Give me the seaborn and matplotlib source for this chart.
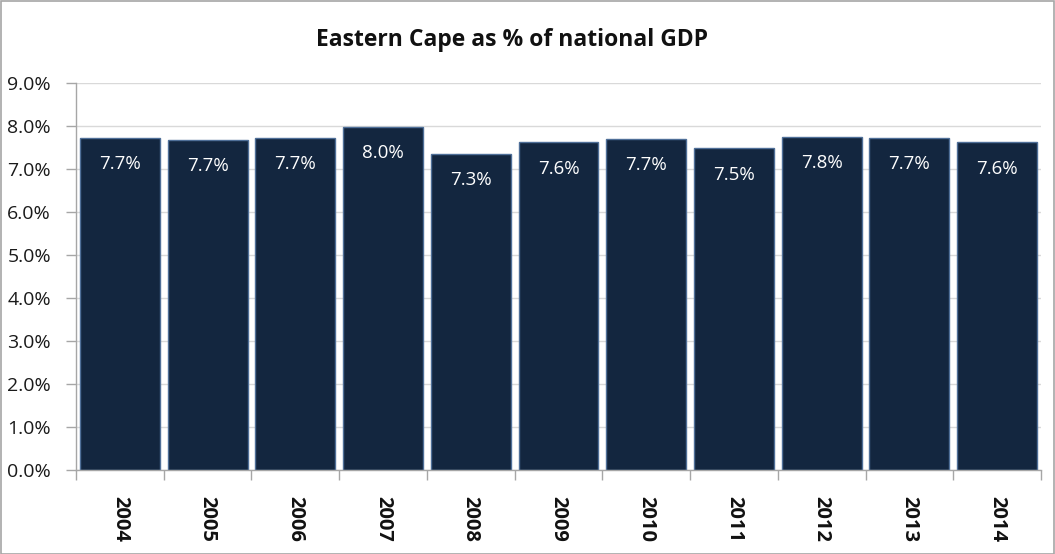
import matplotlib
matplotlib.use("Agg")
import matplotlib.pyplot as plt
import seaborn as sns
import pandas as pd
from matplotlib.ticker import FuncFormatter, FixedLocator, NullFormatter

# Eastern Cape share of national GDP, by year (%)
years = ["2004", "2005", "2006", "2007", "2008", "2009", "2010", "2011", "2012", "2013", "2014"]
share_pct = [7.72, 7.67, 7.73, 7.97, 7.35, 7.62, 7.70, 7.48, 7.75, 7.73, 7.62]
y_ticks = [0, 1, 2, 3, 4, 5, 6, 7, 8, 9]

df = pd.DataFrame({"year": years, "share": share_pct})

sns.set_theme(style="white")
plt.rcParams["font.family"] = ["Open Sans", "DejaVu Sans"]

fig = plt.figure(figsize=(10.55, 5.54), dpi=100)
ax = fig.add_axes([76 / 1055, 1 - 470 / 554, (1041 - 76) / 1055, (470 - 83) / 554])

bar_color = "#13263f"
sns.barplot(data=df, x="year", y="share", color=bar_color, saturation=1,
            width=0.91, edgecolor="#4f6f98", linewidth=1.0, ax=ax, zorder=2)

ax.set_ylim(0, 9)
ax.set_xlim(-0.5, len(years) - 0.5)
ax.set_yticks(y_ticks)
ax.yaxis.set_major_formatter(FuncFormatter(lambda v, _: f"{v:.1f}%"))
ax.yaxis.grid(True, color="#d9d9d9", linewidth=1.0, zorder=0)
ax.set_axisbelow(True)
ax.set_xlabel("")
ax.set_ylabel("")

for side in ("top", "right"):
    ax.spines[side].set_visible(False)
for side in ("left", "bottom"):
    ax.spines[side].set_color("#a6a6a6")
    ax.spines[side].set_linewidth(1.0)

ax.tick_params(axis="y", which="major", left=True, length=7, width=1, color="#a6a6a6",
               labelsize=14, labelcolor="#1a1a1a", pad=11)
# category ticks sit on the boundaries between bars
ax.xaxis.set_major_locator(FixedLocator(range(len(years))))
ax.xaxis.set_minor_locator(FixedLocator([i - 0.5 for i in range(len(years) + 1)]))
ax.xaxis.set_minor_formatter(NullFormatter())
ax.tick_params(axis="x", which="major", bottom=False, labelsize=14.5, pad=13)
ax.tick_params(axis="x", which="minor", bottom=True, length=7, width=1, color="#a6a6a6")
for lbl in ax.get_xticklabels():
    lbl.set_rotation(270)
    lbl.set_fontweight("bold")
    lbl.set_color("#111111")
    lbl.set_va("top")
    lbl.set_ha("center")

for i, v in enumerate(share_pct):
    ax.text(i, v - 0.40, f"{v:.1f}%", ha="center", va="top", color="white",
            fontsize=13.5, zorder=3)

fig.suptitle("Eastern Cape as % of national GDP", x=512 / 1055, y=1 - 40 / 554,
             va="center", fontsize=16.5, fontweight="bold", color="#111111")

# thin frame around the whole chart area
border = plt.Rectangle((0.5 / 1055, 0.5 / 554), 1 - 1.5 / 1055, 1 - 1.5 / 554,
                       transform=fig.transFigure, fill=False, edgecolor="#a6a6a6",
                       linewidth=1.2)
fig.add_artist(border)

fig.savefig("out.png", dpi=100)
